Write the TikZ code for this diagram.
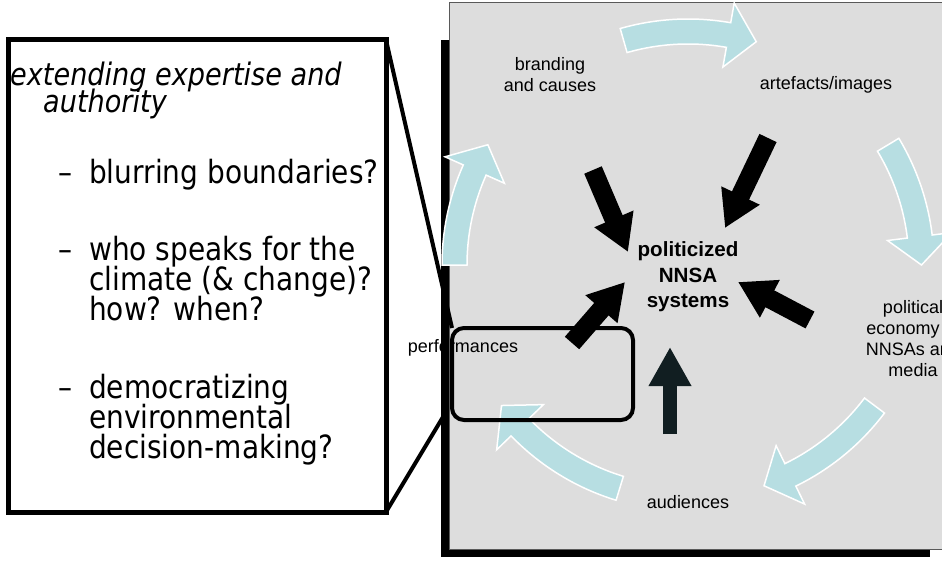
\documentclass[tikz,border=0pt]{standalone}
\usepackage{fontspec}
\setmainfont{Liberation Sans}
\newfontfamily\tahoma[FakeStretch=0.875]{DejaVu Sans}
\usetikzlibrary{arrows.meta}
\definecolor{cyc}{RGB}{183,222,226}
\definecolor{panelgray}{RGB}{221,221,221}
\definecolor{dkarrow}{RGB}{17,30,33}
\newcommand\cycArrow[2]{%
  \pgfmathsetmacro\cycHd{#2+7}%
  \filldraw[cycarrow] (#1:221) arc[start angle=#1, end angle=\cycHd, radius=221]
    -- (\cycHd:201) -- (#2:233.5) -- (\cycHd:266) -- (\cycHd:246)
    arc[start angle=\cycHd, end angle=#1, radius=246] -- cycle;}
\begin{document}
\begin{tikzpicture}[x=1pt,y=-1pt,
  lbl/.style={font=\fontsize{18}{21}\selectfont, align=center, inner sep=0pt},
  ctr/.style={font=\fontsize{20.6}{25.5}\selectfont\bfseries, align=center, inner sep=0pt},
  blk/.style={line width=19pt, -{Triangle[length=36pt,width=40pt]}},
  cycarrow/.style={fill=cyc, draw=white, line width=1.5pt},
  callt/.style={font=\tahoma\fontsize{32}{30}\selectfont, anchor=base west, inner sep=0pt},
  calit/.style={font=\tahoma\itshape\fontsize{31}{29}\selectfont, anchor=base west, inner sep=0pt},
]
\useasboundingbox (0,0) rectangle (942,564);
% shadow and panel
\fill[black] (441,40) rectangle (930,557);
\fill[panelgray] (449,3) rectangle (960,549);
\draw[gray!70!black, line width=1pt] (960,3) -- (449,3) -- (449,549) -- (960,549);
\node[lbl] (perf) at (463,348) {performances};
\fill[black] (441,40) rectangle (449,557);
\node[lbl, anchor=base] (pg) at (878,577) {10};
% cycle arrows
\begin{scope}[shift={(688,265)}, yscale=-1]
  \cycArrow{106}{73}
  \cycArrow{31}{0}
  \cycArrow{-37}{-71}
  \cycArrow{-107}{-143}
  \cycArrow{180}{149}
\end{scope}
% labels
\node[lbl] (brand) at (550,75) {branding\\and causes};
\node[lbl] (arte) at (826,85) {artefacts/images};
\node[lbl] (pol) at (913,339) {political\\economy of\\NNSAs and\\media};
\node[lbl] (aud) at (688,502) {audiences};
\node[ctr] (core) at (688,277) {politicized\\NNSA\\systems};
% black arrows
\coordinate (t1) at (593,170); \coordinate (h1) at (628,252);
\coordinate (t2) at (768,138); \coordinate (h2) at (725,228);
\coordinate (t3) at (572,343); \coordinate (h3) at (625,282);
\coordinate (t4) at (810,320); \coordinate (h4) at (738,282);
\coordinate (t5) at (670,434); \coordinate (h5) at (670,347);
\draw[blk] (t1) -- (h1);
\draw[blk] (t2) -- (h2);
\draw[blk] (t3) -- (h3);
\draw[blk] (t4) -- (h4);
\draw[dkarrow, line width=14pt, -{Triangle[length=39pt,width=40pt]}] (t5) -- (h5);
% highlight
\node[draw, line width=4pt, rounded corners=12pt, minimum width=181pt, minimum height=92pt, outer sep=0pt] (hl) at (542.5,374) {};
% callout
\node[draw, fill=white, line width=5pt, minimum width=378pt, minimum height=472pt, outer sep=0pt] (cbox) at (197,276) {};
\coordinate (lo) at (443,417);
\draw[line width=4pt] (cbox.north east) -- (hl.north west);
\draw[line width=4pt] (cbox.south east) -- (lo);
% callout text
\node[calit] (i1) at (10,86) {extending expertise and};
\node[calit] (i2) at (43,113) {authority};
\node[callt] (d1) at (58,184) {–};
\node[callt] (b1) at (89,184) {blurring boundaries?};
\node[callt] (d2) at (58,260) {–};
\node[callt] (b2a) at (89,260) {who speaks for the};
\node[callt] (b2b) at (89,290) {climate (\& change)?};
\node[callt] (b2c) at (89,320) {how? when?};
\node[callt] (d3) at (58,398) {–};
\node[callt] (b3a) at (89,398) {democratizing};
\node[callt] (b3b) at (89,428) {environmental};
\node[callt] (b3c) at (89,458) {decision-making?};
\end{tikzpicture}
\end{document}
